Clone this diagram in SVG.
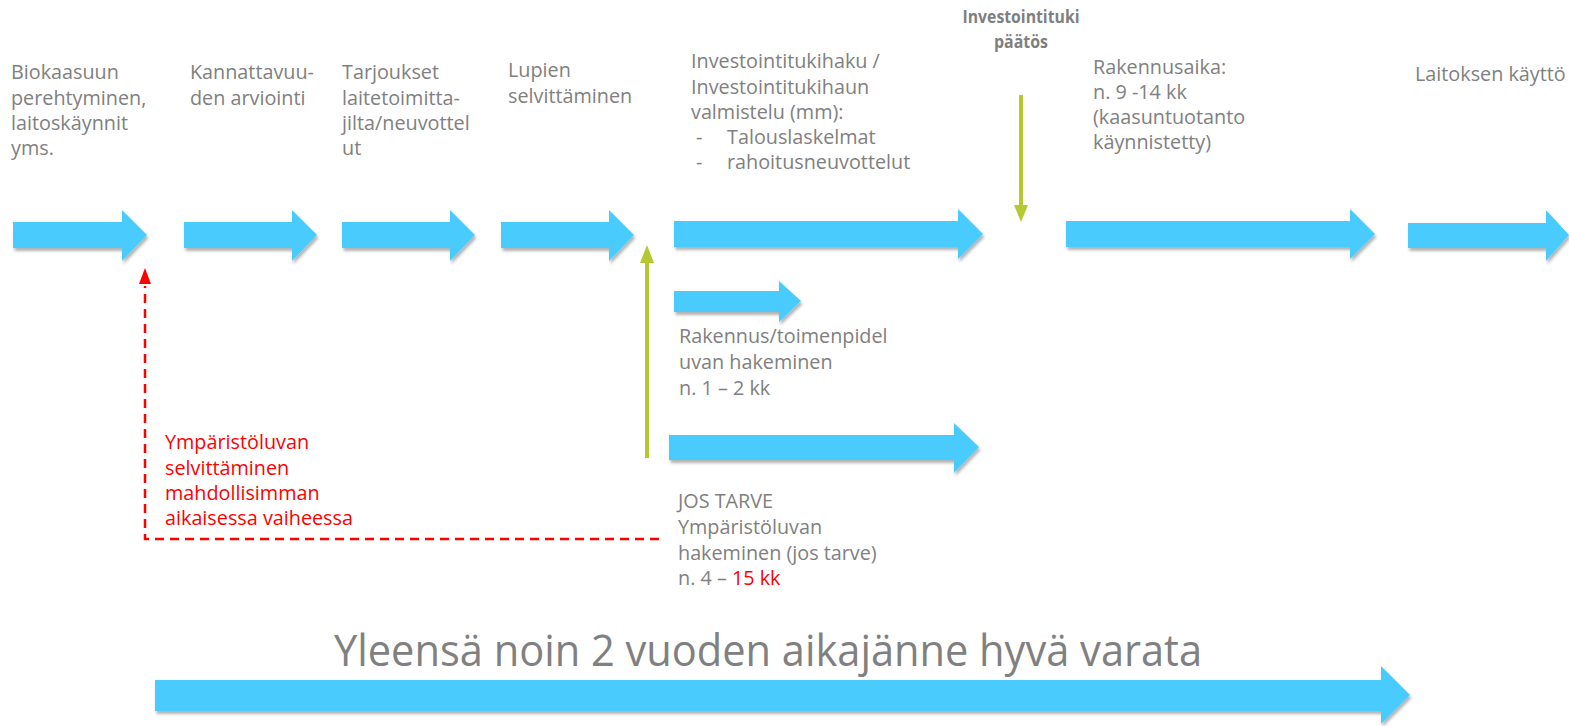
<svg xmlns="http://www.w3.org/2000/svg" width="1569" height="726" viewBox="0 0 1569 726">
<style>
.t{font-family:"Open Sans","Liberation Sans",sans-serif;font-size:19.8px;fill:#808080}
.r{fill:#ff0000}
.b{font-family:"Open Sans","Liberation Sans",sans-serif;font-size:17px;font-weight:bold;fill:#7f7f7f}
.big{font-family:"Open Sans","Liberation Sans",sans-serif;font-size:44px;fill:#808080}
.arr{fill:#48ccfd;filter:url(#sh)}
.g{stroke:#b4c832;stroke-width:4;fill:none}
.gh{fill:#b4c832}
.rd{stroke:#ff0000;stroke-width:2.5;stroke-dasharray:9 6;fill:none}
</style>
<defs>
<filter id="sh" x="-5%" y="-30%" width="110%" height="160%">
<feDropShadow dx="1.5" dy="3" stdDeviation="1.5" flood-color="#000" flood-opacity="0.3"/>
</filter>
</defs>
<rect width="1569" height="726" fill="#fff"/>
<g id="connectors">
<polygon class="arr" points="13,222 122,222 122,210 147,235 122,261 122,248 13,248"/>
<polygon class="arr" points="184,222 292,222 292,210 317,235 292,261 292,248 184,248"/>
<polygon class="arr" points="342,222 450,222 450,210 475,235 450,261 450,248 342,248"/>
<polygon class="arr" points="501,222 609,222 609,210 634,235 609,261 609,248 501,248"/>
<polygon class="arr" points="674,221 958,221 958,209 983,234 958,259 958,247 674,247"/>
<polygon class="arr" points="1066,221 1350,221 1350,209 1375,234 1350,259 1350,247 1066,247"/>
<polygon class="arr" points="1408,223 1546,223 1546,210 1569,235 1546,261 1546,248 1408,248"/>
<polygon class="arr" points="674,291 779,291 779,281 801,301 779,322 779,312 674,312"/>
<polygon class="arr" points="669,435 954,435 954,423 979,447 954,473 954,460 669,460"/>
<polygon class="arr" points="155,680 1381,680 1381,666 1410,695 1381,724 1381,711 155,711"/>
<line class="g" x1="647" y1="458" x2="647" y2="262"/>
<polygon class="gh" points="647,245 640,263 654,263"/>
<line class="g" x1="1021" y1="95" x2="1021" y2="206"/>
<polygon class="gh" points="1021,222 1014,205 1028,205"/>
<polyline class="rd" points="659,539 145,539 145,286"/>
<polygon fill="#ff0000" points="145,268 139,284 151,284"/>
</g>
<g id="n1"><text class="t" x="11" y="79">Biokaasuun</text><text class="t" x="11" y="105">perehtyminen,</text><text class="t" x="11" y="130">laitoskäynnit</text><text class="t" x="11" y="155">yms.</text></g>
<g id="n2"><text class="t" x="190" y="79">Kannattavuu-</text><text class="t" x="190" y="105">den arviointi</text></g>
<g id="n3"><text class="t" x="342" y="79">Tarjoukset</text><text class="t" x="342" y="105">laitetoimitta-</text><text class="t" x="342" y="130">jilta/neuvottel</text><text class="t" x="342" y="155">ut</text></g>
<g id="n4"><text class="t" x="508" y="77">Lupien</text><text class="t" x="508" y="103">selvittäminen</text></g>
<g id="n5"><text class="t" x="691" y="68">Investointitukihaku /</text><text class="t" x="691" y="94">Investointitukihaun</text><text class="t" x="691" y="119">valmistelu (mm):</text><text class="t" x="696" y="144">-</text><text class="t" x="727" y="144">Talouslaskelmat</text><text class="t" x="696" y="169">-</text><text class="t" x="727" y="169">rahoitusneuvottelut</text></g>
<g id="n6"><text class="b" x="1021" y="23" text-anchor="middle" textLength="117" lengthAdjust="spacingAndGlyphs">Investointituki</text><text class="b" x="1021" y="48" text-anchor="middle" textLength="54" lengthAdjust="spacingAndGlyphs">päätös</text></g>
<g id="n7"><text class="t" x="1093" y="74">Rakennusaika:</text><text class="t" x="1093" y="99">n. 9 -14 kk</text><text class="t" x="1093" y="124">(kaasuntuotanto</text><text class="t" x="1093" y="149">käynnistetty)</text></g>
<g id="n8"><text class="t" x="1415" y="81">Laitoksen käyttö</text></g>
<g id="n9"><text class="t" x="679" y="343">Rakennus/toimenpidel</text><text class="t" x="679" y="369">uvan hakeminen</text><text class="t" x="679" y="395">n. 1 – 2 kk</text></g>
<g id="n10"><text class="t" x="678" y="508">JOS TARVE</text><text class="t" x="678" y="534">Ympäristöluvan</text><text class="t" x="678" y="560">hakeminen (jos tarve)</text><text class="t" x="678" y="585">n. 4 – <tspan class="r">15 kk</tspan></text></g>
<g id="n11"><text class="t r" x="165" y="449">Ympäristöluvan</text><text class="t r" x="165" y="475">selvittäminen</text><text class="t r" x="165" y="500">mahdollisimman</text><text class="t r" x="165" y="525">aikaisessa vaiheessa</text></g>
<g id="n12"><text class="big" x="334" y="666" textLength="868" lengthAdjust="spacingAndGlyphs">Yleensä noin 2 vuoden aikajänne hyvä varata</text></g>
</svg>
